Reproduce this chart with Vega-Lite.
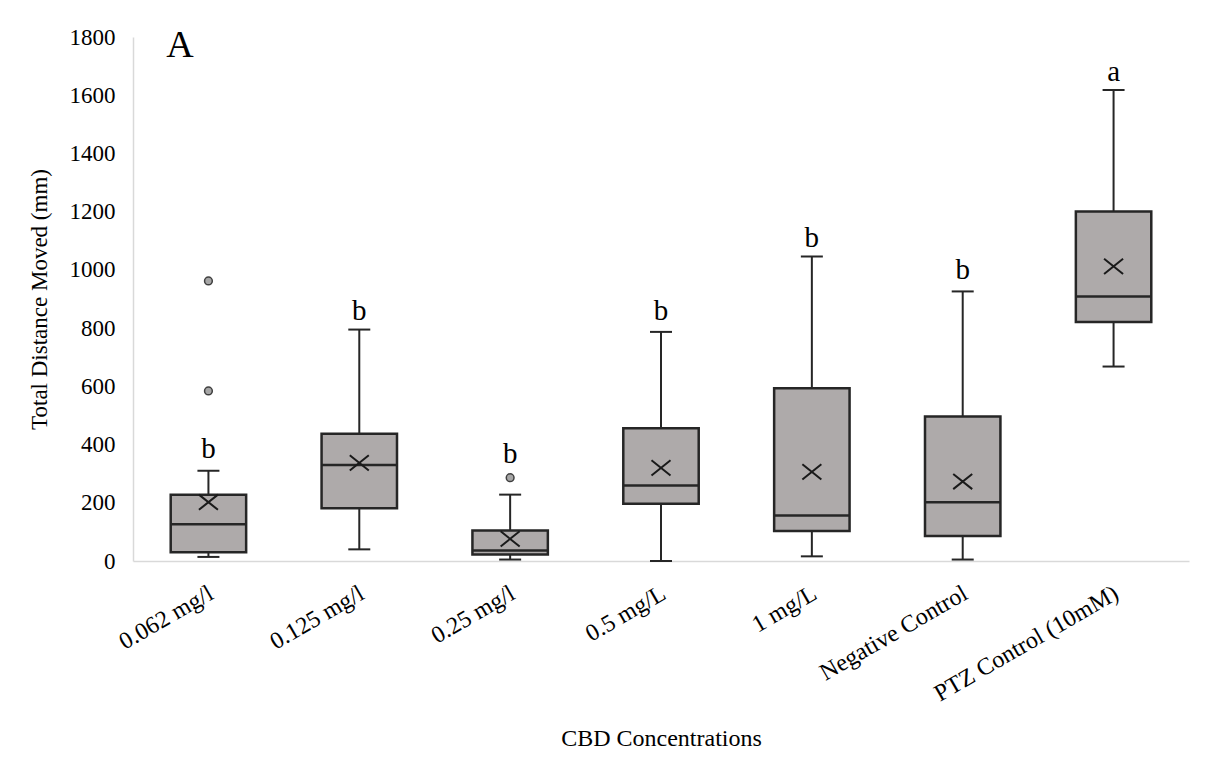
{
  "$schema": "https://vega.github.io/schema/vega-lite/v6.json",
  "width": 1056,
  "height": 524,
  "autosize": {"type": "none"},
  "padding": {"left": 133, "top": 37, "right": 26, "bottom": 198},
  "background": "white",
  "config": {
    "view": {"stroke": null},
    "font": "Liberation Serif",
    "axis": {"labelFont": "Liberation Serif", "titleFont": "Liberation Serif", "labelColor": "#000000", "titleColor": "#000000", "titleFontWeight": "normal"}
  },
  "datasets": {
    "stats": [
      {"group": "0.062 mg/l", "lo": 14, "q1": 30, "med": 126, "q3": 228, "hi": 310, "mean": 202, "letter": "b", "lettery": 354},
      {"group": "0.125 mg/l", "lo": 40, "q1": 181, "med": 330, "q3": 437, "hi": 795, "mean": 337, "letter": "b", "lettery": 829},
      {"group": "0.25 mg/l", "lo": 5, "q1": 22, "med": 36, "q3": 105, "hi": 228, "mean": 76, "letter": "b", "lettery": 337},
      {"group": "0.5 mg/L", "lo": 0, "q1": 197, "med": 259, "q3": 456, "hi": 787, "mean": 320, "letter": "b", "lettery": 827},
      {"group": "1 mg/L", "lo": 16, "q1": 103, "med": 156, "q3": 593, "hi": 1046, "mean": 306, "letter": "b", "lettery": 1080},
      {"group": "Negative Control", "lo": 5, "q1": 86, "med": 202, "q3": 496, "hi": 926, "mean": 273, "letter": "b", "lettery": 968},
      {"group": "PTZ Control (10mM)", "lo": 668, "q1": 821, "med": 909, "q3": 1201, "hi": 1618, "mean": 1012, "letter": "a", "lettery": 1650}
    ],
    "outliers": [
      {"group": "0.062 mg/l", "value": 962},
      {"group": "0.062 mg/l", "value": 584},
      {"group": "0.25 mg/l", "value": 286}
    ]
  },
  "encoding": {
    "x": {
      "field": "group",
      "type": "nominal",
      "sort": ["0.062 mg/l", "0.125 mg/l", "0.25 mg/l", "0.5 mg/L", "1 mg/L", "Negative Control", "PTZ Control (10mM)"],
      "scale": {"paddingInner": 0, "paddingOuter": 0},
      "axis": {
        "title": "CBD Concentrations",
        "titleFontSize": 24,
        "titleColor": "#000000",
        "titleY": 184,
        "titleBaseline": "alphabetic",
        "domainColor": "#D9D9D9",
        "domainWidth": 1.5,
        "ticks": false,
        "labelAngle": -30,
        "labelAlign": "right",
        "labelBaseline": "top",
        "labelPadding": 20,
        "labelOffset": -3,
        "labelFontSize": 24,
        "labelLimit": 400
      }
    }
  },
  "layer": [
    {
      "data": {"name": "stats"},
      "mark": {"type": "rule", "stroke": "#262626", "strokeWidth": 2},
      "encoding": {
        "y": {
          "field": "lo",
          "type": "quantitative",
          "scale": {"domain": [0, 1800], "nice": false, "zero": true},
          "axis": {
            "title": "Total Distance Moved (mm)",
            "titleFontSize": 23,
            "titleColor": "#000000",
            "titleX": -87,
            "titleY": 262,
            "titleAngle": -90,
            "titleAlign": "center",
            "titleBaseline": "alphabetic",
            "values": [0, 200, 400, 600, 800, 1000, 1200, 1400, 1600, 1800],
            "format": "d",
            "grid": false,
            "ticks": false,
            "domainColor": "#D9D9D9",
            "domainWidth": 1.5,
            "labelFontSize": 23,
            "labelPadding": 18
          }
        },
        "y2": {"field": "hi"}
      }
    },
    {
      "data": {"name": "stats"},
      "mark": {"type": "tick", "color": "#262626", "size": 22, "thickness": 2, "opacity": 1},
      "encoding": {"y": {"field": "lo", "type": "quantitative", "title": "Total Distance Moved (mm)"}}
    },
    {
      "data": {"name": "stats"},
      "mark": {"type": "tick", "color": "#262626", "size": 22, "thickness": 2, "opacity": 1},
      "encoding": {"y": {"field": "hi", "type": "quantitative", "title": "Total Distance Moved (mm)"}}
    },
    {
      "data": {"name": "stats"},
      "mark": {"type": "bar", "fill": "#AEAAAA", "stroke": "#262626", "strokeWidth": 2.5, "width": {"band": 0.5}},
      "encoding": {
        "y": {"field": "q1", "type": "quantitative", "title": "Total Distance Moved (mm)"},
        "y2": {"field": "q3"}
      }
    },
    {
      "data": {"name": "stats"},
      "mark": {"type": "tick", "color": "#262626", "size": 75, "thickness": 2.5, "opacity": 1},
      "encoding": {"y": {"field": "med", "type": "quantitative", "title": "Total Distance Moved (mm)"}}
    },
    {
      "data": {"name": "stats"},
      "mark": {"type": "point", "shape": "M-1,-0.8L1,0.8M-1,0.8L1,-0.8", "size": 361, "filled": false, "stroke": "#1a1a1a", "strokeWidth": 2, "opacity": 1},
      "encoding": {"y": {"field": "mean", "type": "quantitative", "title": "Total Distance Moved (mm)"}}
    },
    {
      "data": {"name": "outliers"},
      "mark": {"type": "point", "shape": "circle", "size": 60, "filled": true, "fill": "#A6A6A6", "stroke": "#404040", "strokeWidth": 1.5, "opacity": 1},
      "encoding": {"y": {"field": "value", "type": "quantitative", "title": "Total Distance Moved (mm)"}}
    },
    {
      "data": {"name": "stats"},
      "mark": {"type": "text", "fontSize": 29, "baseline": "alphabetic", "align": "center", "color": "#000000", "font": "Liberation Serif"},
      "encoding": {
        "y": {"field": "lettery", "type": "quantitative", "title": "Total Distance Moved (mm)"},
        "text": {"field": "letter"}
      }
    },
    {
      "data": {"values": [{"label": "A"}]},
      "mark": {"type": "text", "fontSize": 38, "baseline": "alphabetic", "align": "left", "color": "#000000", "font": "Liberation Serif"},
      "encoding": {
        "x": {"datum": "0.062 mg/l", "bandPosition": 0.22},
        "y": {"datum": 1731, "type": "quantitative", "title": "Total Distance Moved (mm)"},
        "text": {"field": "label"}
      }
    }
  ]
}
